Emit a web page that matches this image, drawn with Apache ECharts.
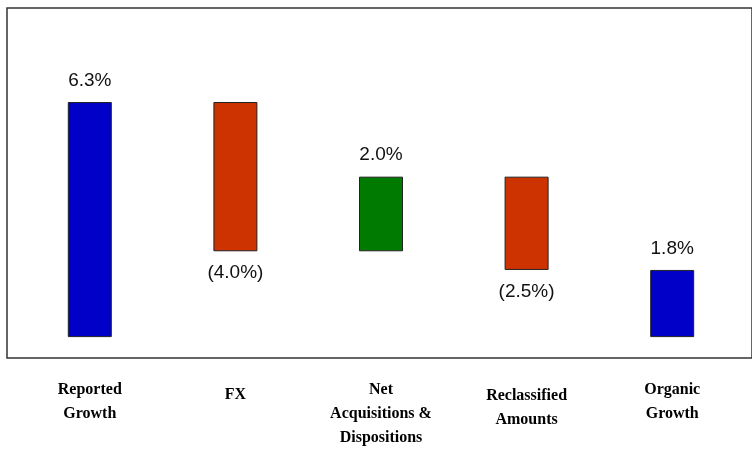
<!DOCTYPE html>
<html>
<head>
<meta charset="utf-8">
<script src="https://cdn.jsdelivr.net/npm/echarts@6/dist/echarts.min.js"></script>
<style>
  html, body { margin: 0; padding: 0; background: #fff; }
  #chart { width: 752px; height: 454px; }
</style>
</head>
<body>
<div id="chart"></div>
<script>
// Growth bridge: reported growth, adjustments, organic growth (in %)
const categories = ['Reported\nGrowth', 'FX', 'Net\nAcquisitions &\nDispositions', 'Reclassified\nAmounts', 'Organic\nGrowth'];
const changes = [6.3, -4.0, 2.0, -2.5, 1.8];
const isTotal = [true, false, false, false, true];
const barColors = ['#0000C8', '#CC3300', '#007A00', '#CC3300', '#0000C8'];
const labelTopPad = [0, 5, 0, 6, 0];

// floating bar bases from a running total
const bases = [];
const heights = [];
let running = 0;
changes.forEach((v, i) => {
  if (isTotal[i]) {
    bases.push(0);
    heights.push(v);
    running = v;
  } else {
    bases.push(Math.min(running, running + v));
    heights.push(Math.abs(v));
    running += v;
  }
});

const fmt = v => v < 0 ? '(' + Math.abs(v).toFixed(1) + '%)' : v.toFixed(1) + '%';

const chart = echarts.init(document.getElementById('chart'), null, { renderer: 'canvas' });
chart.setOption({
  animation: false,
  backgroundColor: '#fff',
  grid: [
    { left: 17, right: 7, top: 8, bottom: 96 },
    { left: 7, right: -6, top: 8, bottom: 96, show: true, borderColor: '#333', borderWidth: 1.5, backgroundColor: 'transparent' }
  ],
  xAxis: [
    {
      type: 'category',
      gridIndex: 0,
      data: categories.map((c, i) => ({ value: c, textStyle: { padding: [labelTopPad[i], 0, 0, 0] } })),
      axisLine: { show: false },
      axisTick: { show: false },
      axisLabel: {
        interval: 0,
        margin: 20,
        color: '#000',
        fontFamily: "'Liberation Serif', 'Times New Roman', serif",
        fontWeight: 'bold',
        fontSize: 16,
        lineHeight: 24,
        verticalAlign: 'top'
      }
    },
    { type: 'value', gridIndex: 1, show: false }
  ],
  yAxis: [
    { type: 'value', gridIndex: 0, min: -0.56, max: 8.82, show: false },
    { type: 'value', gridIndex: 1, show: false }
  ],
  series: [
    {
      type: 'bar',
      stack: 'bridge',
      data: bases,
      itemStyle: { color: 'transparent' },
      silent: true,
      barWidth: 44
    },
    {
      type: 'bar',
      stack: 'bridge',
      barWidth: 44,
      data: heights.map((h, i) => ({
        value: h,
        itemStyle: { color: barColors[i], borderColor: '#222', borderWidth: 1 },
        label: {
          show: true,
          position: changes[i] < 0 ? 'bottom' : 'top',
          distance: 12,
          formatter: fmt(changes[i])
        }
      })),
      label: {
        color: '#111',
        fontSize: 19,
        fontFamily: "'Liberation Sans', Arial, sans-serif"
      }
    }
  ]
});
</script>
</body>
</html>
